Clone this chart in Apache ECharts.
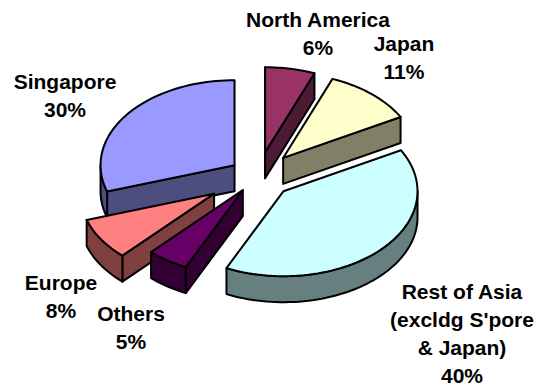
<!DOCTYPE html>
<html>
<head>
<meta charset="utf-8">
<script src="https://cdn.jsdelivr.net/npm/echarts@6/dist/echarts.min.js"></script>
<style>
html,body{margin:0;padding:0;background:#fff;}
#chart{width:538px;height:387px;}
</style>
</head>
<body>
<div id="chart"></div>
<script>
// ---- data ----
const categories = ['Singapore', 'North America', 'Japan', "Rest of Asia\n(excldg S'pore\n& Japan)", 'Others', 'Europe'];
const values = [30, 6, 11, 40, 5, 8];

// ---- styles / layout ----
const colors = ['#9999FF', '#993366', '#FFFFCC', '#CCFFFF', '#660066', '#FF8080'];
const explode = [29, 38, 38, 35, 27, 52];
const labelPos = [[65, 95], [318, 33], [404, 57], [462, 333], [131, 327], [61, 296]];
const startAngle = 252;
const center = [258, 176];
const rx = 134, ry = 85, depth = 26;

function darker(hex) {
  const n = parseInt(hex.slice(1), 16);
  const r = Math.round(((n >> 16) & 255) * 0.5), g = Math.round(((n >> 8) & 255) * 0.5), b = Math.round((n & 255) * 0.5);
  return 'rgb(' + r + ',' + g + ',' + b + ')';
}

const total = values.reduce((a, b) => a + b, 0);
const slices = [];
let acc = startAngle;
values.forEach((v, i) => {
  const a0 = acc, a1 = acc + v / total * 360;
  acc = a1;
  const mid = (a0 + a1) / 2 * Math.PI / 180;
  const ox = center[0] + explode[i] * Math.sin(mid);
  const oy = center[1] - explode[i] * Math.cos(mid) * ry / rx;
  slices.push({ a0, a1, ox, oy, key: oy - 0.6 * ry * Math.cos(mid) });
});
const order = slices.map((s, i) => i).sort((p, q) => slices[p].key - slices[q].key);
const zrank = [];
order.forEach((idx, r) => { zrank[idx] = r; });

function pt(s, deg, dy) {
  const t = deg * Math.PI / 180;
  return [s.ox + rx * Math.sin(t), s.oy - ry * Math.cos(t) + (dy || 0)];
}
function arc(s, a, b, dy) {
  const pts = [];
  const n = Math.max(2, Math.ceil(Math.abs(b - a) / 2));
  for (let k = 0; k <= n; k++) pts.push(pt(s, a + (b - a) * k / n, dy));
  return pts;
}

function renderItem(params, api) {
  const i = params.dataIndex;
  const s = slices[i];
  const top = colors[i], side = darker(colors[i]);
  const base = zrank[i] * 10;
  const strokeStyle = { stroke: '#000', lineWidth: 2, lineJoin: 'round' };
  const children = [];
  const apex = [s.ox, s.oy], apexD = [s.ox, s.oy + depth];
  // radial walls
  const walls = [[s.a0, Math.cos((s.a0 - 90) * Math.PI / 180) < 0], [s.a1, Math.cos((s.a1 + 90) * Math.PI / 180) < 0]];
  walls.forEach(w => {
    if (!w[1]) return;
    const p = pt(s, w[0]), pd = pt(s, w[0], depth);
    children.push({ type: 'polygon', z2: base + 1, shape: { points: [apex, p, pd, apexD] },
      style: Object.assign({ fill: side }, strokeStyle) });
  });
  // outer wall: visible between 90 and 270 (mod 360)
  for (let off = -360; off <= 360; off += 360) {
    const lo = Math.max(s.a0, 90 + off), hi = Math.min(s.a1, 270 + off);
    if (hi > lo) {
      const upper = arc(s, lo, hi, 0), lower = arc(s, hi, lo, depth);
      children.push({ type: 'polygon', z2: base + 2, shape: { points: upper.concat(lower) },
        style: Object.assign({ fill: side }, strokeStyle) });
    }
  }
  // top face
  children.push({ type: 'polygon', z2: base + 5, shape: { points: [apex].concat(arc(s, s.a0, s.a1, 0)) },
    style: Object.assign({ fill: top }, strokeStyle) });
  return { type: 'group', children };
}

const chart = echarts.init(document.getElementById('chart'), null, { renderer: 'svg' });
chart.setOption({
  animation: false,
  backgroundColor: '#ffffff',
  series: [{
    type: 'custom',
    coordinateSystem: 'none',
    renderItem: renderItem,
    data: values.map((v, i) => ({ name: categories[i], value: v }))
  }],
  graphic: categories.map((c, i) => ({
    type: 'text',
    x: labelPos[i][0],
    y: labelPos[i][1],
    style: {
      text: c + '\n' + values[i] + '%',
      align: 'center',
      verticalAlign: 'middle',
      font: 'bold 21px "Liberation Sans", Arial, sans-serif',
      lineHeight: 28,
      fill: '#000'
    }
  }))
});
</script>
</body>
</html>
